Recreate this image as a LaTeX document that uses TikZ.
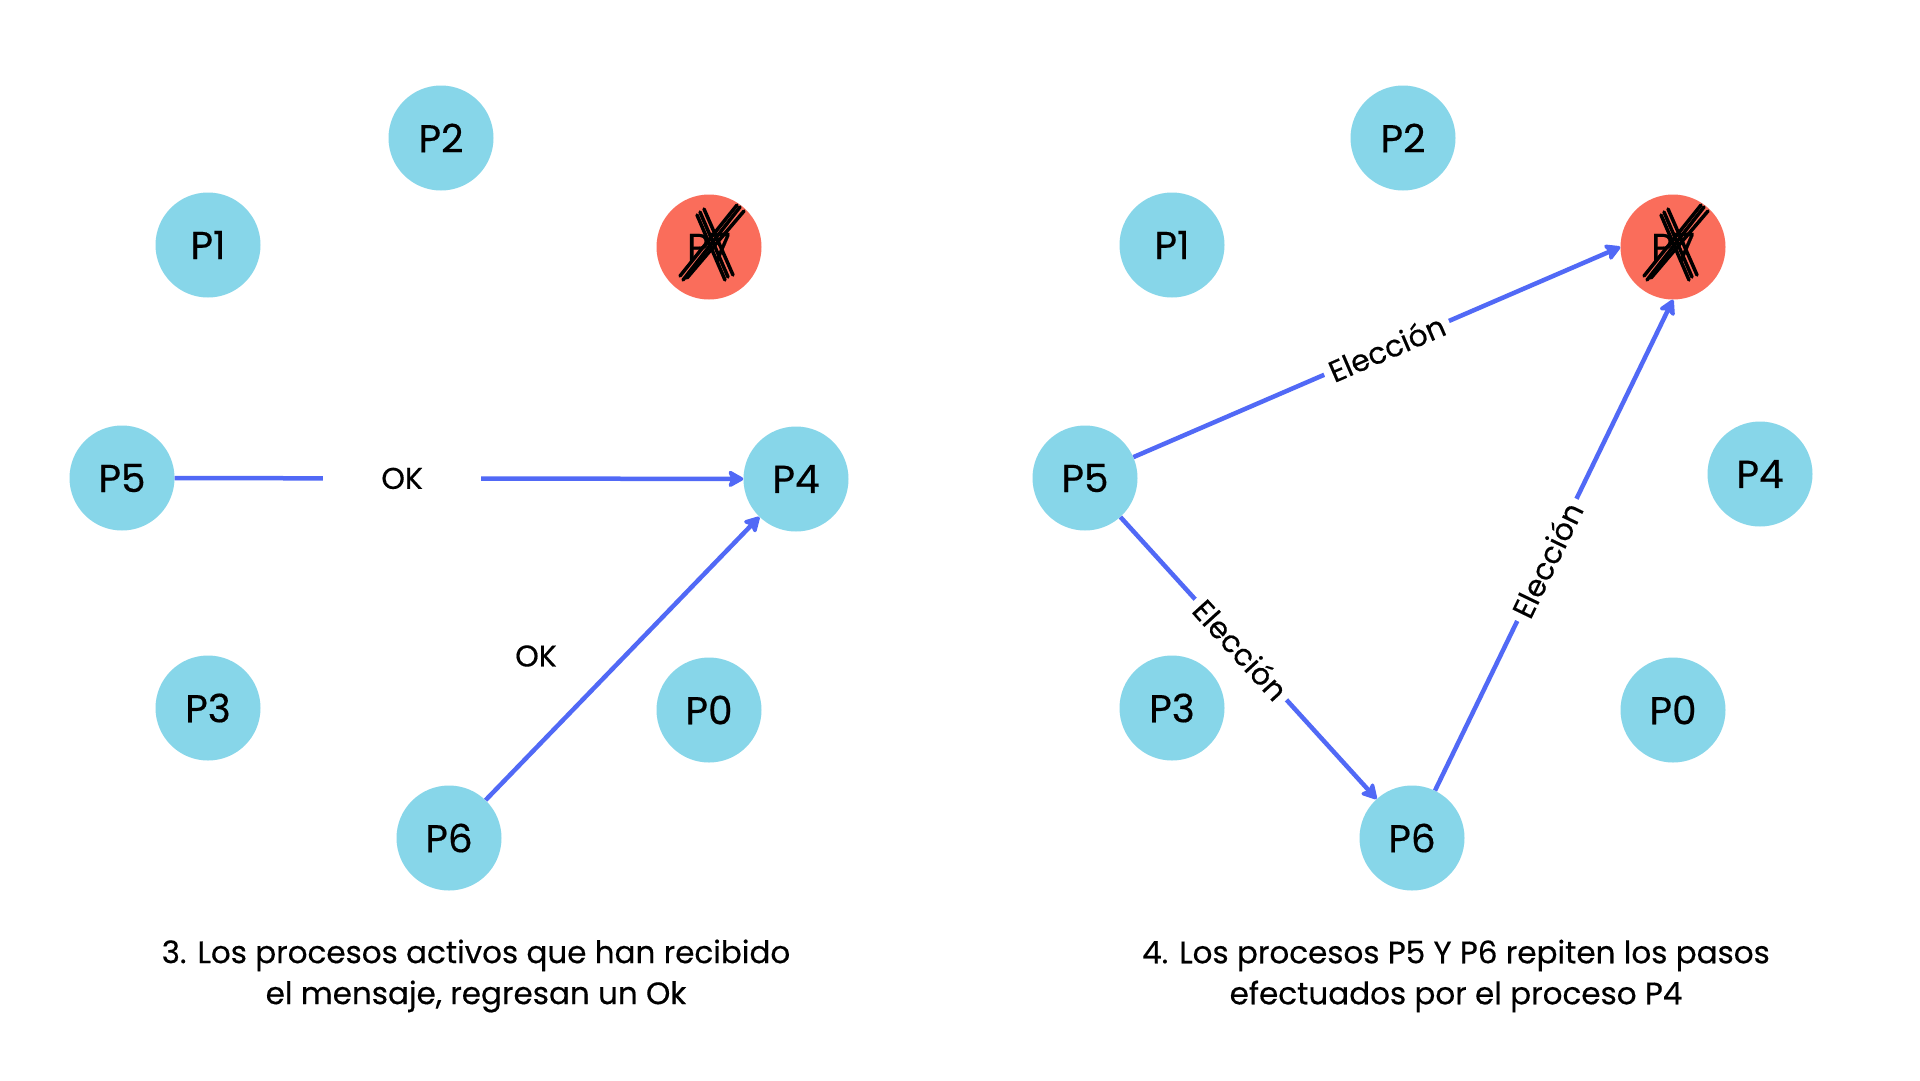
\documentclass[tikz,border=0pt]{standalone}
\usepackage{fontspec}
\setmainfont{Poppins}[FakeBold=0.4]
\usetikzlibrary{arrows.meta}
\definecolor{procblue}{HTML}{87D6E9}
\definecolor{procred}{HTML}{FA6D5B}
\definecolor{arrowblue}{HTML}{5169F6}
\tikzset{
  proc/.style={circle, fill=procblue, minimum size=105pt, inner sep=0pt, font=\fontsize{39}{42}\selectfont},
  deadproc/.style={proc, fill=procred},
  msg/.style={draw=arrowblue, line width=4.5pt, -{Stealth[length=18pt,width=20pt,inset=4pt,round]}},
  lbl/.style={fill=white, inner sep=6pt, font=\fontsize{30}{33}\selectfont},
  caption/.style={align=center, font=\fontsize{31}{41}\selectfont},
  cross/.style={line width=3.5pt, black, line cap=round}
}
\begin{document}
\begin{tikzpicture}[x=1pt,y=-1pt]
\useasboundingbox[fill=white] (0,0) rectangle (1920,1080);
% Left panel
\node[proc] (L2) at (441,138) {P2};
\node[proc] (L1) at (208,245) {P1};
\node[deadproc] (L7) at (709,247) {P7};
\node[proc] (L5) at (122,478) {P5};
\node[proc] (L4) at (796,479) {P4};
\node[proc] (L3) at (208,708) {P3};
\node[proc] (L0) at (709,710) {P0};
\node[proc] (L6) at (449,838) {P6};
\foreach \n in {L7}{
  \begin{scope}[shift={(\n)}]
    \draw[cross] (-26,33) -- (31,-40);
    \draw[cross] (-22,31) -- (35,-36);
    \draw[cross] (-29,29) -- (28,-42);
    \draw[cross] (-9,-35) -- (19,30);
    \draw[cross] (-5,-38) -- (24,28);
    \draw[cross] (-12,-32) -- (16,33);
  \end{scope}
}
\draw[msg] (L5) -- node[lbl, pos=0.40, inner xsep=58pt] (okA) {OK} (L4);
\draw[msg] (L6) -- (L4);
\node[font=\fontsize{30}{33}\selectfont] (okB) at (536,656) {OK};
\node[caption] (capL) at (476,976) {3. Los procesos activos que han recibido\\el mensaje, regresan un Ok};
% Right panel
\node[proc] (R2) at (1403,138) {P2};
\node[proc] (R1) at (1172,245) {P1};
\node[deadproc] (R7) at (1673,247) {P7};
\node[proc] (R5) at (1085,478) {P5};
\node[proc] (R4) at (1760,474) {P4};
\node[proc] (R3) at (1172,708) {P3};
\node[proc] (R0) at (1673,710) {P0};
\node[proc] (R6) at (1412,838) {P6};
\foreach \n in {R7}{
  \begin{scope}[shift={(\n)}]
    \draw[cross] (-26,33) -- (31,-40);
    \draw[cross] (-22,31) -- (35,-36);
    \draw[cross] (-29,29) -- (28,-42);
    \draw[cross] (-9,-35) -- (19,30);
    \draw[cross] (-5,-38) -- (24,28);
    \draw[cross] (-12,-32) -- (16,33);
  \end{scope}
}
\draw[msg] (R5) -- node[lbl, sloped, pos=0.52] (e1) {Elección} (R7.west);
\draw[msg] (R5) -- node[lbl, sloped, pos=0.47] (e2) {Elección} (R6);
\draw[msg] (R6) -- node[lbl, sloped, pos=0.47] (e3) {Elección} (R7.south);
\node[caption] (capR) at (1456,976) {4. Los procesos P5 Y P6 repiten los pasos\\efectuados por el proceso P4};
\end{tikzpicture}
\end{document}
